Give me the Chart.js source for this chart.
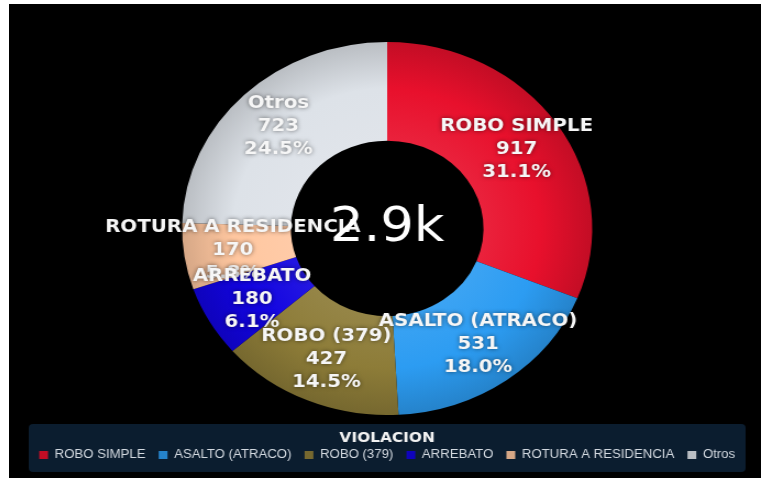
<!DOCTYPE html>
<html>
<head>
<meta charset="utf-8">
<script src="https://cdn.jsdelivr.net/npm/chart.js@4.4.1/dist/chart.umd.min.js"></script>
<style>
  html, body { margin: 0; background: #fff; }
  #wrap { position: absolute; left: 9px; top: 4px; }
  canvas { display: block; background: #000; }
</style>
</head>
<body>
<div id="wrap">
  <canvas id="grafViol" width="684" height="474" style="width:752px;height:474px"></canvas>
</div>
<script>
const categories = ['ROBO SIMPLE', 'ASALTO (ATRACO)', 'ROBO (379)', 'ARREBATO', 'ROTURA A RESIDENCIA', 'Otros'];
const counts = [917, 531, 427, 180, 170, 723];
const sliceColors = ['#e8102c', '#2c9cf2', '#8d7c38', '#1204e0', '#ffc7a0', '#dde2e8'];
const centerText = '2.9k';
const legendTitle = 'VIOLACION';

const canvas = document.getElementById('grafViol');

// lighten / darken a hex colour
function mix(hex, amt) {
  const n = parseInt(hex.slice(1), 16);
  let r = n >> 16, g = (n >> 8) & 255, b = n & 255;
  const t = amt < 0 ? 0 : 255, p = Math.abs(amt);
  r = Math.round(r + (t - r) * p);
  g = Math.round(g + (t - g) * p);
  b = Math.round(b + (t - b) * p);
  return `rgb(${r},${g},${b})`;
}

function shade(context) {
  const chart = context.chart;
  const area = chart.chartArea;
  const base = sliceColors[context.dataIndex];
  if (!area) return base;
  const cx = (area.left + area.right) / 2, cy = (area.top + area.bottom) / 2;
  const r = Math.min(area.right - area.left, area.bottom - area.top) / 2;
  const g = chart.ctx.createRadialGradient(cx, cy, 0, cx, cy, r);
  g.addColorStop(0.45, mix(base, 0.08));
  g.addColorStop(0.75, base);
  g.addColorStop(1, mix(base, -0.16));
  return g;
}

const legendBox = {
  id: 'legendBox',
  beforeDraw(chart) {
    const lg = chart.legend;
    if (!lg) return;
    const c = chart.ctx;
    c.save();
    c.fillStyle = '#0b1d2f';
    c.beginPath();
    c.roundRect(lg.left + 10, lg.top + 9, lg.right - lg.left - 20, lg.bottom - lg.top - 8, 4);
    c.fill();
    c.restore();
  }
};

const arcLabels = {
  id: 'arcLabels',
  afterDatasetsDraw(chart) {
    const c = chart.ctx;
    const arcs = chart.getDatasetMeta(0).data;
    const total = counts.reduce((a, b) => a + b, 0);
    c.save();
    c.font = 'bold 18px "DejaVu Sans"';
    c.fillStyle = '#f6f6f6';
    c.textAlign = 'center';
    c.textBaseline = 'middle';
    c.shadowColor = 'rgba(0,0,0,0.55)';
    c.shadowBlur = 4;
    for (let i = arcs.length - 1; i >= 0; i--) {
      const p = arcs[i].getProps(['x', 'y', 'startAngle', 'endAngle', 'innerRadius', 'outerRadius'], true);
      const mid = (p.startAngle + p.endAngle) / 2;
      const r = p.innerRadius + 0.55 * (p.outerRadius - p.innerRadius);
      const x = p.x + Math.cos(mid) * r, y = p.y + Math.sin(mid) * r;
      const lines = [categories[i], String(counts[i]), (counts[i] / total * 100).toFixed(1) + '%'];
      lines.forEach((t, k) => c.fillText(t, x, y + (k - 1) * 23));
    }
    c.restore();
  },
  afterDraw(chart) {
    const c = chart.ctx;
    const a = chart.getDatasetMeta(0).data[0];
    c.save();
    c.font = '48px "DejaVu Sans"';
    c.fillStyle = '#fff';
    c.textAlign = 'center';
    c.textBaseline = 'middle';
    c.fillText(centerText, a.x, a.y);
    c.restore();
  }
};

new Chart(canvas, {
  type: 'doughnut',
  data: {
    labels: categories,
    datasets: [{
      data: counts,
      backgroundColor: shade,
      borderWidth: 0,
      hoverOffset: 0
    }]
  },
  options: {
    responsive: false,
    devicePixelRatio: 1,
    animation: false,
    cutout: '47%',
    layout: { padding: { top: 38, bottom: 7, left: 8, right: 4 } },
    plugins: {
      legend: {
        position: 'bottom',
        title: {
          display: true,
          text: legendTitle,
          color: '#f2f2f2',
          font: { family: 'DejaVu Sans', weight: 'bold', size: 14, lineHeight: 1 },
          padding: { top: 16, bottom: -8 }
        },
        labels: {
          color: '#d3d9e0',
          font: { family: 'Liberation Sans', size: 12 },
          boxWidth: 8,
          boxHeight: 8,
          padding: 12
        }
      },
      tooltip: { enabled: false }
    }
  },
  plugins: [legendBox, arcLabels]
});
</script>
</body>
</html>
